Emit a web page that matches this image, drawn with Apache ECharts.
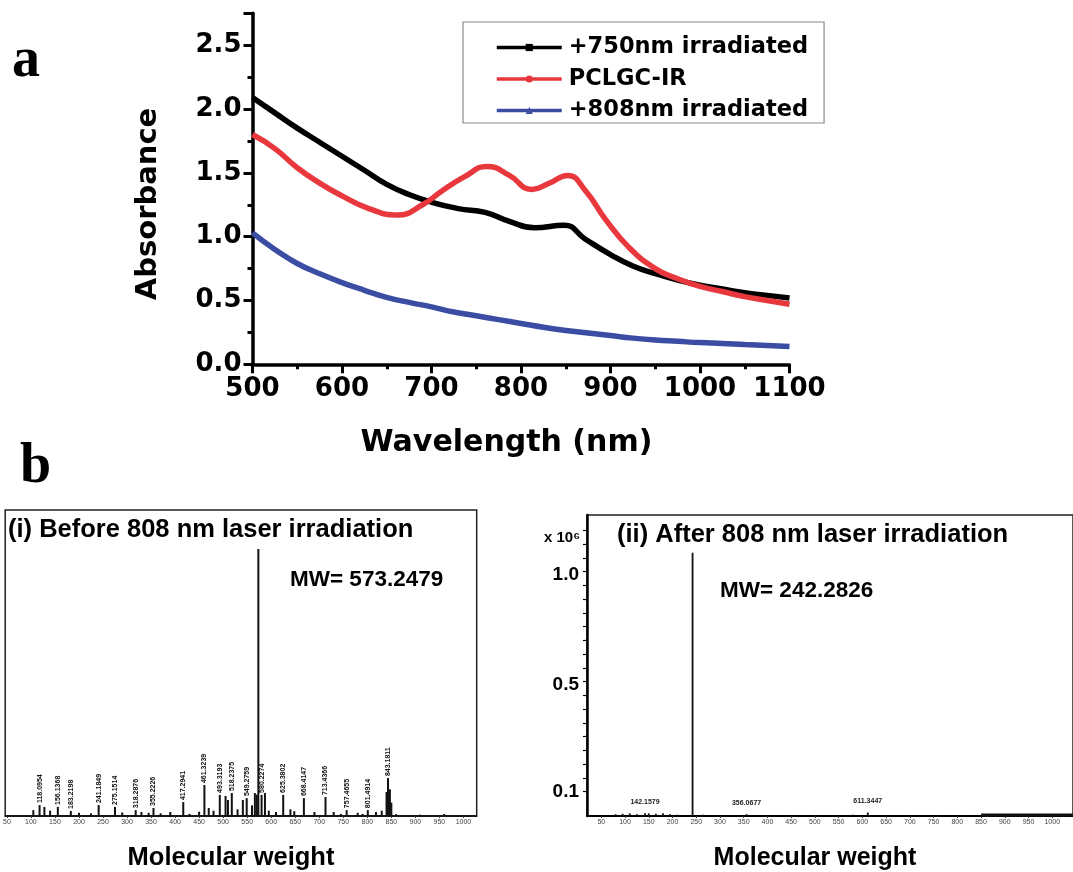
<!DOCTYPE html>
<html>
<head>
<meta charset="utf-8">
<script src="https://cdn.jsdelivr.net/npm/echarts@6/dist/echarts.min.js"></script>
<style>
html,body{margin:0;padding:0;background:#fff;}
#chart{width:1073px;height:872px;}
</style>
</head>
<body>
<div id="chart"></div>
<script>
// ---------- Panel a: absorbance spectra ----------
const seriesNames = ['+750nm irradiated', 'PCLGC-IR', '+808nm irradiated'];
const wl750  = [500,525,550,575,600,625,650,675,700,730,760,787,815,848,872,900,925,950,975,1000,1025,1050,1075,1100];
const abs750 = [2.09,1.97,1.85,1.74,1.63,1.52,1.41,1.33,1.27,1.22,1.19,1.12,1.07,1.09,0.98,0.86,0.77,0.71,0.66,0.62,0.59,0.56,0.54,0.52];
const wlIR   = [500,525,550,575,600,630,662,690,712,737,762,787,812,832,852,872,895,920,950,975,1000,1025,1050,1075,1100];
const absIR  = [1.80,1.69,1.54,1.42,1.32,1.22,1.17,1.25,1.36,1.47,1.55,1.48,1.37,1.42,1.48,1.36,1.13,0.92,0.75,0.67,0.61,0.57,0.53,0.50,0.47];
const wl808  = [500,525,550,575,600,625,650,675,700,725,750,775,800,825,850,875,900,925,950,975,1000,1025,1050,1075,1100];
const abs808 = [1.03,0.90,0.79,0.71,0.64,0.58,0.525,0.485,0.45,0.41,0.38,0.35,0.32,0.29,0.265,0.245,0.225,0.205,0.19,0.18,0.17,0.163,0.155,0.148,0.14];

// ---------- Panel b(i): before irradiation mass spectrum (relative intensity) ----------
const msBefore_mz = [105,118,128,140,156,183,200,225,241,275,290,318,330,345,355,370,390,417,430,450,461,470,480,493,505,510,518,530,541,549,560,566,570,573.2479,580,587,595,610,625,640,648,668,690,713,730,745,757,780,790,801,818,830,840,843,847,850,860,910,960];
const msBefore_int = [2.2,4.1,3.4,2.0,3.4,1.9,1.2,1.0,4.1,3.4,1.3,2.2,1.5,1.2,3.0,1.0,1.5,5.2,0.8,1.6,11.6,3.0,2.0,7.9,7.5,6.0,8.6,2.5,6.0,6.7,4.0,8.6,8.0,100,7.9,8.6,2.0,1.5,7.9,2.5,1.8,6.7,1.5,7.1,1.5,0.8,2.2,1.2,0.8,2.2,1.5,2.0,9.0,14.2,10.0,5.0,0.7,0.5,0.8];
const msBefore_labels = ['','118.0954','','','156.1368','183.2198','','','241.1849','275.1514','','318.2876','','','355.2226','','','417.2941','','','461.3239','','','493.3193','','','518.2375','','','549.2759','','','','','580.2274','','','','625.3802','','','668.4147','','713.4366','','','757.4655','','','801.4914','','','','843.1811','','','','',''];
const msBefore_ticks = [50,100,150,200,250,300,350,400,450,500,550,600,650,700,750,800,850,900,950,1000];

// ---------- Panel b(ii): after irradiation mass spectrum (x 10^6) ----------
const msAfter_mz = [60,80,95,110,125,142.1579,150,165,180,195,210,242.2826,265,300,330,356.0677,400,450,500,550,580,611.3447,640,700,760,810];
const msAfter_int = [0.005,0.008,0.010,0.012,0.008,0.012,0.012,0.010,0.012,0.008,0.006,1.197,0.006,0.005,0.004,0.008,0.004,0.003,0.004,0.004,0.006,0.016,0.004,0.003,0.003,0.004];
const msAfter_labels = ['','','','','','142.1579','','','','','','','','','','356.0677','','','','','','611.3447','','','',''];
const msAfter_tail = [[850,0.004],[1043,0.004]];
const msAfter_ticks = [50,100,150,200,250,300,350,400,450,500,550,600,650,700,750,800,850,900,950,1000];
const msAfter_yLabelText = ['0.1','0.5','1.0'];
const msAfter_yLabelAt = [0.1105,0.5955,1.0955];

const FONT = 'Liberation Sans, Arial, sans-serif';
const FONT_A = 'DejaVu Sans, Verdana, sans-serif';
const chart = echarts.init(document.getElementById('chart'), null, {renderer:'canvas'});

function pairs(xs, ys){ return xs.map((x,i)=>[x, ys[i]]); }

// minor ticks on b(ii) y axis (styling)
const bTickVals = [];
for (let v = msAfter_yLabelAt[0]; v <= 1.36; v += 0.0625) bTickVals.push(+v.toFixed(4));

const lineColors = ['#000000', '#e8373d', '#3b4da3'];

const option = {
  animation: false,
  backgroundColor: '#ffffff',
  legend: {
    left: 463, top: 22,
    orient: 'vertical',
    data: seriesNames,
    itemWidth: 65, itemHeight: 9, itemGap: 8.5,
    padding: [14, 16, 1, 32],
    borderColor: '#8a8a8a', borderWidth: 1.2,
    lineStyle: { width: 3.5 },
    textStyle: { fontFamily: FONT_A, fontWeight: 'bold', fontSize: 22.5, color: '#000', padding: [0,0,0,2] }
  },
  grid: [
    { left: 252.5, top: 13.3, width: 537, height: 351 },
    { left: 0, top: 510, width: 476.7, height: 306, show: true, borderColor: '#222', borderWidth: 1.5 },
    { left: 587, top: 515, width: 503, height: 301, show: true, borderColor: '#222', borderWidth: 1.5 }
  ],
  xAxis: [
    {
      gridIndex: 0, type: 'value', min: 500, max: 1100, interval: 100,
      axisLine: { lineStyle: { color: '#000', width: 3.5 } },
      axisTick: { length: 9, lineStyle: { width: 3, color: '#000' } },
      minorTick: { show: true, splitNumber: 2, length: 5, lineStyle: { width: 3, color: '#000' } },
      splitLine: { show: false },
      axisLabel: { fontFamily: FONT_A, fontWeight: 'bold', fontSize: 26, color: '#000', margin: 12, formatter: v => String(v) }
    },
    {
      gridIndex: 1, type: 'value', min: 46.5, max: 1027.6,
      axisLine: { lineStyle: { color: '#000', width: 1.5 } },
      axisTick: { show: true, customValues: msBefore_ticks, length: 2, lineStyle: { color: '#333' } },
      splitLine: { show: false },
      axisLabel: { customValues: msBefore_ticks, fontFamily: FONT, fontSize: 7, color: '#444', margin: 3, formatter: v => String(v) }
    },
    {
      gridIndex: 2, type: 'value', min: 19.9, max: 1043.7,
      axisLine: { lineStyle: { color: '#000', width: 2 } },
      axisTick: { show: true, customValues: msAfter_ticks, length: 2, lineStyle: { color: '#333' } },
      splitLine: { show: false },
      axisLabel: { customValues: msAfter_ticks, fontFamily: FONT, fontSize: 7, color: '#444', margin: 3, formatter: v => String(v) }
    }
  ],
  yAxis: [
    {
      gridIndex: 0, type: 'value', min: 0, max: 2.75, interval: 0.5,
      axisLine: { show: true, lineStyle: { color: '#000', width: 3.5 } },
      axisTick: { show: true, length: 9, lineStyle: { width: 3, color: '#000' } },
      minorTick: { show: true, splitNumber: 2, length: 5, lineStyle: { width: 3, color: '#000' } },
      splitLine: { show: false },
      axisLabel: {
        fontFamily: FONT_A, fontWeight: 'bold', fontSize: 26, color: '#000', margin: 11,
        showMaxLabel: false,
        formatter: v => (Math.abs(v*2 - Math.round(v*2)) < 1e-6 ? v.toFixed(1) : '')
      }
    },
    {
      gridIndex: 1, type: 'value', min: 0, max: 114.6,
      axisLine: { show: false }, axisTick: { show: false }, axisLabel: { show: false }, splitLine: { show: false }
    },
    {
      gridIndex: 2, type: 'value', min: 0, max: 1.368,
      axisLine: { show: true, lineStyle: { color: '#000', width: 2.5 } },
      axisTick: { show: true, customValues: bTickVals, length: 4, lineStyle: { color: '#000', width: 1.2 } },
      splitLine: { show: false },
      axisLabel: {
        customValues: msAfter_yLabelAt,
        fontFamily: FONT, fontWeight: 'bold', fontSize: 19, color: '#000', margin: 8,
        formatter: v => {
          let best = 0, d = 1e9;
          msAfter_yLabelAt.forEach((t,i)=>{ if (Math.abs(t - v) < d) { d = Math.abs(t - v); best = i; } });
          return msAfter_yLabelText[best];
        }
      }
    }
  ],
  series: [
    {
      name: seriesNames[0], type: 'line', xAxisIndex: 0, yAxisIndex: 0,
      data: pairs(wl750, abs750), smooth: 0.5, showSymbol: false, symbol: 'rect', symbolSize: 8,
      lineStyle: { color: lineColors[0], width: 5.5 }, itemStyle: { color: lineColors[0] }, z: 3
    },
    {
      name: seriesNames[1], type: 'line', xAxisIndex: 0, yAxisIndex: 0,
      data: pairs(wlIR, absIR), smooth: 0.5, showSymbol: false, symbol: 'circle', symbolSize: 8,
      lineStyle: { color: lineColors[1], width: 5.5 }, itemStyle: { color: lineColors[1] }, z: 4
    },
    {
      name: seriesNames[2], type: 'line', xAxisIndex: 0, yAxisIndex: 0,
      data: pairs(wl808, abs808), smooth: 0.5, showSymbol: false, symbol: 'triangle', symbolSize: 9,
      lineStyle: { color: lineColors[2], width: 5.5 }, itemStyle: { color: lineColors[2] }, z: 3
    },
    {
      name: 'before', type: 'bar', xAxisIndex: 1, yAxisIndex: 1,
      data: pairs(msBefore_mz, msBefore_int), barWidth: 2,
      itemStyle: { color: '#111' },
      label: {
        show: true, position: 'top', rotate: 90, align: 'left', verticalAlign: 'middle', distance: 2,
        fontFamily: FONT, fontWeight: 'bold', fontSize: 7, color: '#111',
        formatter: p => msBefore_labels[p.dataIndex]
      }
    },
    {
      name: 'after', type: 'bar', xAxisIndex: 2, yAxisIndex: 2,
      data: pairs(msAfter_mz, msAfter_int), barWidth: 1.8,
      itemStyle: { color: '#111' },
      label: {
        show: true, position: 'top', distance: 8,
        fontFamily: FONT, fontWeight: 'bold', fontSize: 7, color: '#222',
        formatter: p => msAfter_labels[p.dataIndex]
      }
    },
    {
      name: 'afterTail', type: 'line', xAxisIndex: 2, yAxisIndex: 2,
      data: msAfter_tail, showSymbol: false, lineStyle: { color: '#111', width: 3 }
    }
  ],
  graphic: [
    { type: 'text', x: 12, y: 62, style: { text: 'a', fontFamily: 'Liberation Serif, Times New Roman, serif', fontWeight: 'bold', fontSize: 56, fill: '#000', verticalAlign: 'middle' } },
    { type: 'text', x: 20, y: 468, style: { text: 'b', fontFamily: 'Liberation Serif, Times New Roman, serif', fontWeight: 'bold', fontSize: 56, fill: '#000', verticalAlign: 'middle' } },
    { type: 'text', x: 148, y: 204, rotation: Math.PI / 2, style: { text: 'Absorbance', fontFamily: FONT_A, fontWeight: 'bold', fontSize: 29, fill: '#000', align: 'center', verticalAlign: 'middle' } },
    { type: 'text', x: 506.5, y: 443, style: { text: 'Wavelength (nm)', fontFamily: FONT_A, fontWeight: 'bold', fontSize: 30, fill: '#000', align: 'center', verticalAlign: 'middle' } },
    { type: 'text', x: 8, y: 530, style: { text: '(i) Before 808 nm laser irradiation', fontFamily: FONT, fontWeight: 'bold', fontSize: 25.5, fill: '#000', verticalAlign: 'middle' } },
    { type: 'text', x: 290, y: 579.5, style: { text: 'MW= 573.2479', fontFamily: FONT, fontWeight: 'bold', fontSize: 22.5, fill: '#000', verticalAlign: 'middle' } },
    { type: 'text', x: 231, y: 858, style: { text: 'Molecular weight', fontFamily: FONT, fontWeight: 'bold', fontSize: 25.5, fill: '#000', align: 'center', verticalAlign: 'middle' } },
    { type: 'text', x: 617, y: 535, style: { text: '(ii) After 808 nm laser irradiation', fontFamily: FONT, fontWeight: 'bold', fontSize: 25.5, fill: '#000', verticalAlign: 'middle' } },
    { type: 'text', x: 720, y: 591, style: { text: 'MW= 242.2826', fontFamily: FONT, fontWeight: 'bold', fontSize: 22.5, fill: '#000', verticalAlign: 'middle' } },
    { type: 'text', x: 815, y: 858, style: { text: 'Molecular weight', fontFamily: FONT, fontWeight: 'bold', fontSize: 25, fill: '#000', align: 'center', verticalAlign: 'middle' } },
    { type: 'text', x: 544, y: 538, style: { text: 'x 10⁶', fontFamily: FONT, fontWeight: 'bold', fontSize: 15, fill: '#000', verticalAlign: 'middle' } }
  ]
};
chart.setOption(option);
</script>
</body>
</html>
